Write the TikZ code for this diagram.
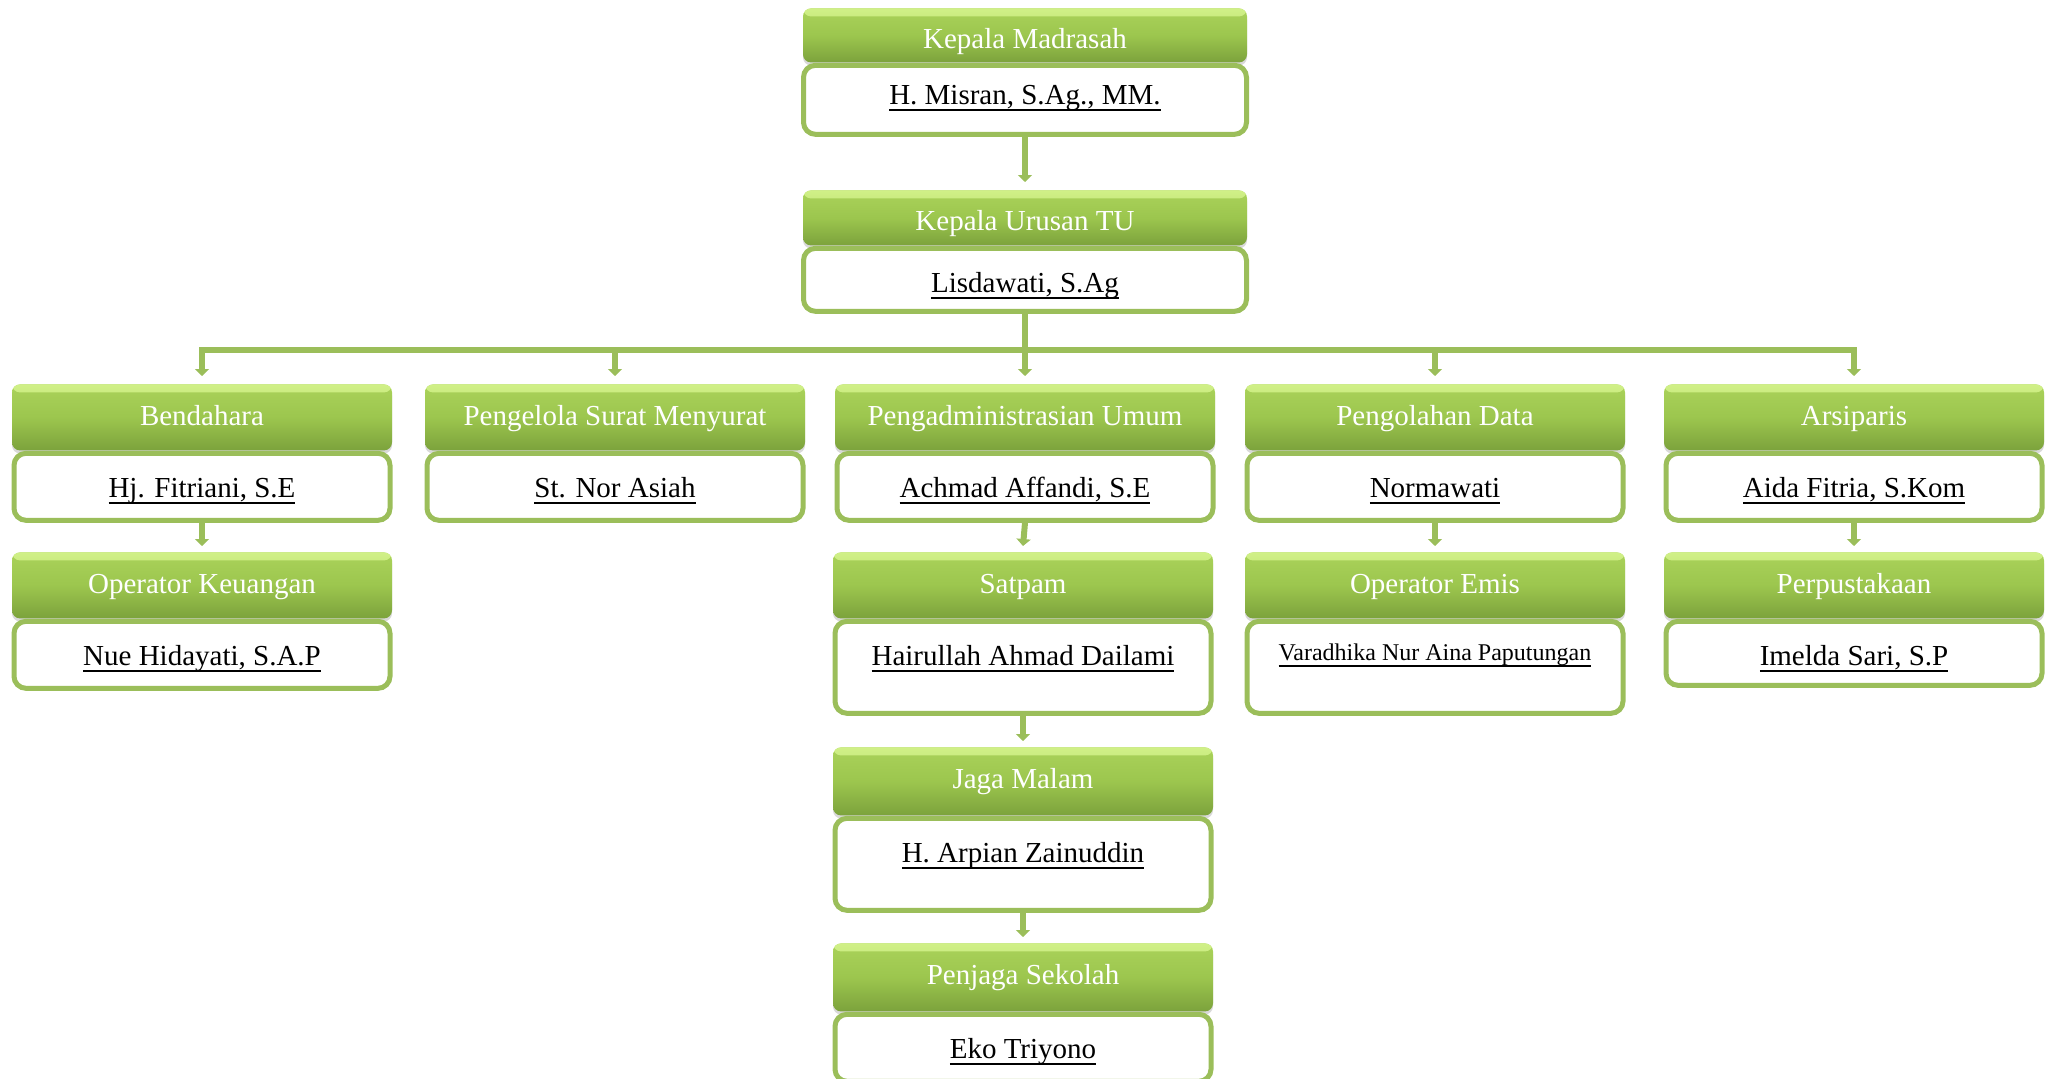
\documentclass[tikz,border=0pt]{standalone}
\usepackage{fontspec}
\setmainfont{Liberation Serif}
\usetikzlibrary{positioning,shadows,arrows.meta}
\definecolor{hdhi}{RGB}{208,240,135}
\definecolor{hdtop}{RGB}{170,210,90}
\definecolor{hdmid}{RGB}{156,198,78}
\definecolor{hdbot}{RGB}{124,162,60}
\definecolor{lncol}{RGB}{155,190,90}
\newcommand{\nmline}[1]{\setbox0\hbox{#1}\rlap{\rule[-3.1pt]{\wd0}{0.9pt}}\box0}

\begin{document}
\begin{tikzpicture}[x=0.5pt,y=-0.5pt,
  hdbox/.style={rectangle,rounded corners=4pt,minimum width=190pt,inner ysep=0pt,
    text height=20.5pt,text depth=12.5pt,
    top color=hdtop,bottom color=hdbot,middle color=hdmid,text=white,anchor=north,
    font=\fontsize{14.5}{17}\selectfont,
    drop shadow={opacity=.3,shadow xshift=0pt,shadow yshift=-1.5pt},
    path picture={\shade[top color=hdhi,bottom color=hdtop]
      (path picture bounding box.north west) rectangle ([yshift=-4pt]path picture bounding box.north east);}},
  namebox/.style={draw=lncol,line width=2.5pt,fill=white,rounded corners=6pt,
    minimum width=188pt,inner sep=0pt,text height=22.25pt,text depth=11.25pt,
    font=\fontsize{14.5}{17}\selectfont},
  tallbox/.style={namebox,text depth=23.75pt},
  conn/.style={draw=lncol,line width=3pt,-{Triangle[width=7pt,length=3.5pt]}}]
\useasboundingbox (0,0) rectangle (2053,1078);

\node[hdbox,minimum width=222pt,text height=20pt,text depth=7pt] (kepala) at (1025,8) {Kepala Madrasah};
\node[namebox,minimum width=221.5pt,text height=19.75pt,text depth=14.75pt,below=0pt of kepala] (misran) {\nmline{H. Misran, S.Ag., MM.}};
\node[hdbox,minimum width=222pt,text height=20pt,text depth=7.5pt] (kaur) at (1025,190) {Kepala Urusan TU};
\node[namebox,minimum width=221.5pt,text depth=9.25pt,below=0pt of kaur] (lisda) {\nmline{Lisdawati, S.Ag}};

\node[hdbox] (bend) at (202,384) {Bendahara};
\node[namebox,below=0pt of bend] (fitri) {\nmline{Hj. Fitriani, S.E}};
\node[hdbox] (surat) at (615,384) {Pengelola Surat Menyurat};
\node[namebox,below=0pt of surat] (nor) {\nmline{St. Nor Asiah}};
\node[hdbox] (umum) at (1025,384) {Pengadministrasian Umum};
\node[namebox,below=0pt of umum] (affandi) {\nmline{Achmad Affandi, S.E}};
\node[hdbox] (olah) at (1435,384) {Pengolahan Data};
\node[namebox,below=0pt of olah] (norma) {\nmline{Normawati}};
\node[hdbox] (arsip) at (1854,384) {Arsiparis};
\node[namebox,below=0pt of arsip] (aida) {\nmline{Aida Fitria, S.Kom}};

\node[hdbox] (opkeu) at (202,552) {Operator Keuangan};
\node[namebox,below=0pt of opkeu] (nue) {\nmline{Nue Hidayati, S.A.P}};
\node[hdbox] (satpam) at (1023,552) {Satpam};
\node[tallbox,below=0pt of satpam] (hairul) {\nmline{Hairullah Ahmad Dailami}};
\node[hdbox] (opemis) at (1435,552) {Operator Emis};
\node[tallbox,text height=19.75pt,text depth=26.25pt,font=\fontsize{12}{14}\selectfont,below=0pt of opemis] (varad) {\nmline{Varadhika Nur Aina Paputungan}};
\node[hdbox] (pustaka) at (1854,552) {Perpustakaan};
\node[namebox,text depth=9.75pt,below=0pt of pustaka] (imelda) {\nmline{Imelda Sari, S.P}};

\node[hdbox,text depth=13.5pt] (jaga) at (1023,747) {Jaga Malam};
\node[tallbox,below=0pt of jaga] (arpian) {\nmline{H. Arpian Zainuddin}};
\node[hdbox,text depth=13.5pt] (penjaga) at (1023,943) {Penjaga Sekolah};
\node[namebox,below=0pt of penjaga] (eko) {\nmline{Eko Triyono}};

\draw[conn] (misran.south) -- ([yshift=4pt]kaur.north);
\coordinate (split) at ([yshift=-18pt]lisda.south);
\draw[draw=lncol,line width=3pt] (lisda.south) -- (split);
\foreach \h in {bend,surat,umum,olah,arsip}
  \draw[conn] (split) -| ([yshift=4pt]\h.north);
\draw[conn] (fitri.south) -- ([yshift=3pt]opkeu.north);
\draw[conn] (affandi.south) -- ([yshift=3pt]satpam.north);
\draw[conn] (norma.south) -- ([yshift=3pt]opemis.north);
\draw[conn] (aida.south) -- ([yshift=3pt]pustaka.north);
\draw[conn] (hairul.south) -- ([yshift=3pt]jaga.north);
\draw[conn] (arpian.south) -- ([yshift=3pt]penjaga.north);
\end{tikzpicture}
\end{document}
